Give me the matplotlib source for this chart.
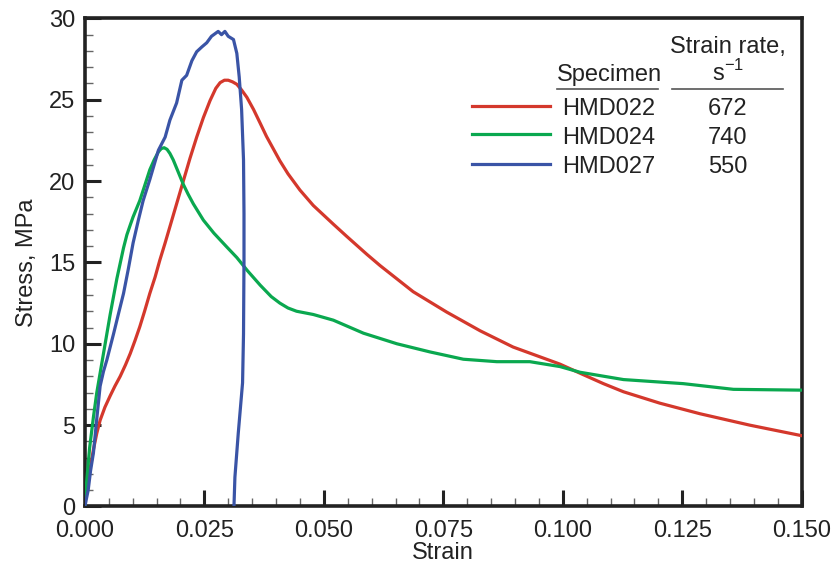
#!/usr/bin/env python3
# Stress-strain curves, three specimens, custom legend table top right.

import matplotlib
matplotlib.use("Agg")  # headless
import matplotlib.pyplot as plt  # noqa: E402
from matplotlib.lines import Line2D  # noqa: E402

plt.rcParams["font.family"] = ["Liberation Sans", "DejaVu Sans"]
plt.rcParams["mathtext.fontset"] = "custom"
plt.rcParams["mathtext.rm"] = "Liberation Sans"

# --- data --------------------------------------------------------------------
specimens = ["HMD022", "HMD024", "HMD027"]
strain_rates = ["672", "740", "550"]
colors = ["#d4382c", "#0aa84f", "#3a54a6"]

hmd022_strain = [0.0, 0.0005, 0.0012, 0.0018, 0.0025, 0.0032, 0.0042, 0.0053,
                 0.0063, 0.0074, 0.0085, 0.0095, 0.0105, 0.0115, 0.0125, 0.0136,
                 0.0147, 0.0157, 0.0168, 0.0178, 0.0192, 0.0206, 0.0220, 0.0234,
                 0.0248, 0.0262, 0.0274, 0.0283, 0.0292, 0.0300, 0.0309, 0.0318,
                 0.0328, 0.0339, 0.0353, 0.0367, 0.0380, 0.0394, 0.0408, 0.0425,
                 0.0450, 0.0478, 0.0520, 0.0548, 0.0590, 0.0618, 0.0687, 0.0757,
                 0.0827, 0.0896, 0.0952, 0.0994, 0.1043, 0.1085, 0.1127, 0.1203,
                 0.1287, 0.1391, 0.1500]
hmd022_stress = [0.5, 1.3, 2.5, 3.5, 4.5, 5.3, 6.1, 6.8,
                 7.4, 8.0, 8.7, 9.4, 10.2, 11.05, 12.0, 13.1,
                 14.1, 15.15, 16.2, 17.2, 18.6, 20.0, 21.4, 22.7,
                 23.9, 24.95, 25.7, 26.05, 26.2, 26.2, 26.1, 25.95,
                 25.6, 25.15, 24.4, 23.55, 22.75, 22.0, 21.25, 20.45,
                 19.45, 18.5, 17.35, 16.6, 15.5, 14.8, 13.2, 11.95,
                 10.8, 9.8, 9.2, 8.75, 8.1, 7.55, 7.05, 6.35,
                 5.7, 5.0, 4.35]

hmd024_strain = [0.0, 0.0004, 0.0010, 0.0018, 0.0025, 0.0032, 0.0039, 0.0046,
                 0.0053, 0.0060, 0.0067, 0.0074, 0.0081, 0.0088, 0.0095, 0.0101,
                 0.0108, 0.0115, 0.0125, 0.0136, 0.0145, 0.0154, 0.0160, 0.0166,
                 0.0172, 0.0178, 0.0185, 0.0192, 0.0199, 0.0206, 0.0216, 0.0227,
                 0.0248, 0.0270, 0.0297, 0.0318, 0.0340, 0.0367, 0.0390, 0.0408,
                 0.0425, 0.0443, 0.0478, 0.0520, 0.0583, 0.0653, 0.0722, 0.0792,
                 0.0862, 0.0931, 0.0994, 0.1036, 0.1127, 0.1252, 0.1357, 0.1500]
hmd024_stress = [0.0, 1.6, 3.6, 5.5, 7.0, 8.2, 9.4, 10.6,
                 11.8, 12.9, 14.0, 14.95, 15.9, 16.7, 17.3, 17.8,
                 18.3, 18.8, 19.7, 20.7, 21.3, 21.8, 22.0, 22.05,
                 21.95, 21.7, 21.3, 20.8, 20.3, 19.8, 19.2, 18.6,
                 17.6, 16.8, 15.95, 15.3, 14.5, 13.6, 12.9, 12.5,
                 12.2, 12.0, 11.8, 11.45, 10.65, 10.0, 9.5, 9.05,
                 8.9, 8.9, 8.6, 8.25, 7.8, 7.55, 7.2, 7.15]

hmd027_strain = [0.0, 0.0007, 0.0012, 0.0018, 0.0025, 0.0032, 0.0039, 0.0046,
                 0.0053, 0.0060, 0.0070, 0.0081, 0.0091, 0.0101, 0.0112, 0.0122,
                 0.0136, 0.0145, 0.0154, 0.0161, 0.0168, 0.0178, 0.0192, 0.0203,
                 0.0213, 0.0224, 0.0234, 0.0245, 0.0255, 0.0265, 0.0279, 0.0286,
                 0.0293, 0.0300, 0.0311, 0.0318, 0.0323, 0.0328, 0.0332, 0.0333,
                 0.0333, 0.0332, 0.0330, 0.0321, 0.0314, 0.0312]
hmd027_stress = [0.0, 1.0, 2.2, 3.3, 5.4, 7.4, 8.3, 9.0,
                 9.8, 10.6, 11.8, 13.1, 14.6, 16.2, 17.6, 18.8,
                 20.1, 21.0, 21.9, 22.3, 22.7, 23.75, 24.8, 26.2,
                 26.5, 27.4, 27.95, 28.25, 28.5, 28.9, 29.2, 29.0,
                 29.2, 28.9, 28.7, 27.85, 26.4, 24.4, 21.3, 18.0,
                 15.15, 10.6, 7.6, 4.5, 1.8, 0.0]

series = [
    (hmd022_strain, hmd022_stress),
    (hmd024_strain, hmd024_stress),
    (hmd027_strain, hmd027_stress),
]

x_ticks = [0.0, 0.025, 0.05, 0.075, 0.1, 0.125, 0.15]
x_ticklabels = ["0.000", "0.025", "0.050", "0.075", "0.100", "0.125", "0.150"]
y_ticks = [0, 5, 10, 15, 20, 25, 30]

# --- figure -------------------------------------------------------------------
fig = plt.figure(figsize=(8.35, 5.71), dpi=100)
ax = fig.add_axes([0.1016, 0.1130, 0.8586, 0.8548])

for (sx, sy), c in zip(series, colors):
    ax.plot(sx, sy, color=c, lw=2.3, solid_joinstyle="round",
            solid_capstyle="round", zorder=3)

ax.set_xlim(0, 0.15)
ax.set_ylim(0, 30)
ax.set_xticks(x_ticks)
ax.set_xticklabels(x_ticklabels)
ax.set_yticks(y_ticks)
ax.set_xticks([i * 0.005 for i in range(31)], minor=True)
ax.set_yticks(list(range(31)), minor=True)

for sp in ax.spines.values():
    sp.set_linewidth(2.6)
    sp.set_color("#222222")

ax.tick_params(which="major", direction="in", length=11.5, width=2.2,
               color="#222222", labelsize=17, pad=7, labelcolor="#222222")
ax.tick_params(axis="x", which="major", pad=10)
ax.tick_params(which="minor", direction="in", length=6, width=1.0,
               color="#666666")
ax.tick_params(top=False, right=False, which="both")

ax.set_xlabel("Strain", fontsize=17, color="#222222", labelpad=0)
ax.set_ylabel("Stress, MPa", fontsize=17, color="#222222", labelpad=8)

# --- legend table ---------------------------------------------------------------
tf = ax.transAxes
txt_kw = dict(transform=tf, fontsize=17, color="#222222")
ax.text(0.7311, 0.871, "Specimen", ha="center", va="baseline", **txt_kw)
ax.text(0.897, 0.9300, "Strain rate,", ha="center", va="baseline", **txt_kw)
ax.text(0.897, 0.871, "s$^{\u22121}$", ha="center", va="baseline", **txt_kw)
ax.add_line(Line2D([0.6581, 0.7988], [0.8555, 0.8555], transform=tf,
                   color="#555555", lw=1.2))
ax.add_line(Line2D([0.8185, 0.9742], [0.8555, 0.8555], transform=tf,
                   color="#555555", lw=1.2))

row_y = [0.8213, 0.7627, 0.7018]
base_y = [0.8023, 0.7428, 0.6828]
for name, rate, c, ly, by in zip(specimens, strain_rates, colors, row_y, base_y):
    ax.add_line(Line2D([0.5396, 0.6488], [ly, ly], transform=tf, color=c, lw=2.3))
    ax.text(0.6651, by, name, ha="left", va="baseline", **txt_kw)
    ax.text(0.897, by, rate, ha="center", va="baseline", **txt_kw)

fig.savefig("out.png", dpi=100)
plt.close(fig)
